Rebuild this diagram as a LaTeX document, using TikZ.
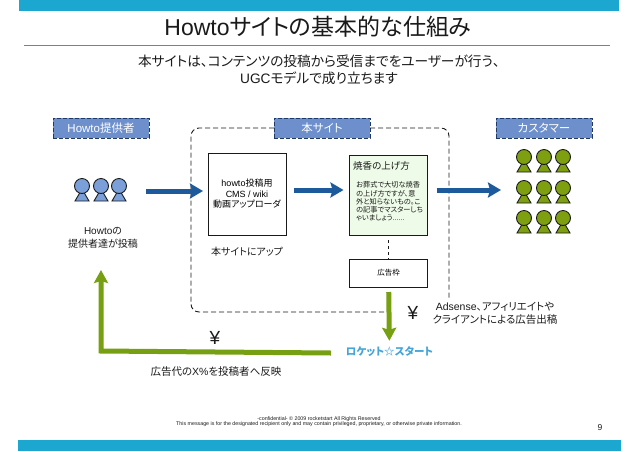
\documentclass[tikz,border=0pt]{standalone}
\usepackage{fontspec}
\usepackage{xcolor}
\usepackage{tikz}
\usetikzlibrary{arrows.meta,positioning}
\setmainfont{Noto Sans CJK JP}[RawFeature={+palt}]
\newfontfamily\lsf{Liberation Sans}
\newcommand{\lat}[1]{{\lsf #1}}
\definecolor{ink}{HTML}{1A1A1A}
\definecolor{band}{HTML}{1BA7CF}
\definecolor{tagfill}{HTML}{6D90CC}
\definecolor{tagline}{HTML}{1F3864}
\definecolor{flowblue}{HTML}{1D5A9C}
\definecolor{flowgreen}{HTML}{76A012}
\definecolor{folkblue}{HTML}{7B9FD8}
\definecolor{folkgreen}{HTML}{7E9F10}
\definecolor{pagegreen}{HTML}{EEFBE8}
\definecolor{rocket}{HTML}{45A5D8}
\tikzset{
  tagbox/.style={rectangle,draw=tagline,dash pattern=on 4pt off 2pt,line width=1pt,fill=tagfill,text=white,
    font=\fontsize{11.5}{13}\selectfont,minimum width=96pt,minimum height=20pt,inner sep=0pt,outer sep=0pt},
  pagebox/.style={rectangle,draw=ink,line width=0.9pt,fill=white,minimum width=78pt,
    minimum height=82pt,inner sep=0pt,outer sep=0pt,align=center},
  bodytext/.style={text=ink,align=center,inner sep=0pt},
  framedash/.style={draw=ink,dash pattern=on 5pt off 3pt,line width=0.9pt,rounded corners=8pt},
  bluearr/.style={-{Stealth[length=13pt,width=15pt,inset=2pt]},line width=5pt,color=flowblue},
  greenarr/.style={-{Stealth[length=13pt,width=14pt,inset=2pt]},line width=5pt,color=flowgreen},
  bluefolk/.style={draw=ink,fill=folkblue,line width=0.9pt},
  greenfolk/.style={draw=ink,fill=folkgreen,line width=0.9pt},
  folk/.pic={
    \path[pic actions] (0,3) -- (7,15) -- (-7,15) -- cycle;
    \path[pic actions] (0,0) circle (7.5);
  },
}
\begin{document}
\begin{tikzpicture}[x=1pt,y=-1pt,node distance=24pt]
  \useasboundingbox (0,0) rectangle (638,451);
  \fill[band] (19,0) rectangle (619,11);
  \fill[band] (18,440) rectangle (621,451);
  \node[bodytext,font=\fontsize{23}{25}\selectfont] (title) at (318,27) {\lat{Howto}サイトの基本的な仕組み};
  \coordinate (ruleL) at (24,45);
  \coordinate (ruleR) at (610,45);
  \draw[gray,line width=1pt] (ruleL) -- (ruleR);
  \node[bodytext,font=\fontsize{13.7}{17}\selectfont] (lead) at (319,70) {本サイトは、コンテンツの投稿から受信までをユーザーが行う、\\\lat{UGC}モデルで成り立ちます};
  % tags
  \node[tagbox] (provtag) at (101,128) {\lat{Howto}提供者};
  \node[tagbox] (sitetag) at (322,128) {本サイト};
  \node[tagbox] (custtag) at (544,128) {カスタマー};
  % boxes
  \node[pagebox,font=\fontsize{9}{10.5}\selectfont] (cms) at (247,194) {\lat{howto}投稿用\\\lat{CMS / wiki}\\動画アップローダ};
  \node[pagebox,fill=pagegreen,minimum height=80pt] (article) at (388.5,195) {};
  \node[bodytext,anchor=north west,font=\fontsize{9.5}{11}\selectfont] (arttitle) at (353,161) {焼香の上げ方};
  \node[bodytext,anchor=north west,align=left,font=\fontsize{7.2}{8.3}\selectfont] (artbody) at (356,181.5) {お葬式で大切な焼香\\の上げ方ですが、意\\外と知らないもの。こ\\の記事でマスターしち\\ゃいましょう......};
  \node[pagebox,minimum height=28pt,below=of article,font=\fontsize{7.5}{9}\selectfont] (adbox) {広告枠};
  \draw[ink,dashed,line width=0.8pt,shorten <=5pt] (article) -- (adbox);
  % frame
  \coordinate (frameL) at (191,312);
  \coordinate (frameR) at (449,300);
  \coordinate (frameB) at (388,312);
  \draw[framedash] (sitetag.west) -| (frameL) -- (frameB);
  \draw[framedash] (sitetag.east) -| (frameR);
  % people
  \foreach \px in {82,101,119}
    \pic[bluefolk] at (\px,186) {folk};
  \foreach \py in {157,188,218}
    \foreach \px in {524,544,563}
      \pic[greenfolk] at (\px,\py) {folk};
  \node[bodytext,font=\fontsize{10}{13}\selectfont] (provtext) at (103,238) {\lat{Howto}の\\提供者達が投稿};
  \node[bodytext,font=\fontsize{10}{11}\selectfont] (uptext) at (247,252) {本サイトにアップ};
  % flows
  \coordinate (provout) at (146,191);
  \coordinate (custin) at (501,190);
  \draw[bluearr,shorten >=5pt] (provout) -- (cms.west |- provout);
  \draw[bluearr,shorten <=8pt,shorten >=6pt] ([yshift=4pt]cms.east) -- ([yshift=5pt]article.west);
  \draw[bluearr,shorten <=9pt] ([yshift=5pt]article.east) -- (custin);
  \node[bodytext,font=\fontsize{10.5}{11}\bfseries,text=rocket] (rocketlogo) at (389.5,352) {ロケット☆スタート};
  \draw[greenarr,shorten <=5pt,shorten >=6pt] (adbox) -- (rocketlogo);
  \coordinate (backturn) at (101,351);
  \coordinate (backend) at (101,270);
  \coordinate (backstart) at (331,353);
  \draw[greenarr] (backstart) -- (backturn) -- (backend);
  % texts
  \node[bodytext,font=\lsf\fontsize{19}{21}\selectfont] (yenA) at (413,313) {¥};
  \node[bodytext,font=\lsf\fontsize{19}{21}\selectfont] (yenB) at (215,338) {¥};
  \node[bodytext,font=\fontsize{10.5}{13}\selectfont] (adtext) at (495,313) {\lat{Adsense}、アフィリエイトや\\クライアントによる広告出稿};
  \node[bodytext,font=\fontsize{10.5}{13}\selectfont] (sharetext) at (216,372) {広告代の\lat{X\%}を投稿者へ反映};
  \node[bodytext,font=\lsf\fontsize{5.3}{5.3}\selectfont] (footer) at (319,421.5) {-confidential- © 2009 rocketstart All Rights Reserved\\This message is for the designated recipient only and may contain privileged, proprietary, or otherwise private information.};
  \node[bodytext,font=\lsf\fontsize{8.5}{10}\selectfont] (pagenum) at (600,428) {9};
\end{tikzpicture}
\end{document}
